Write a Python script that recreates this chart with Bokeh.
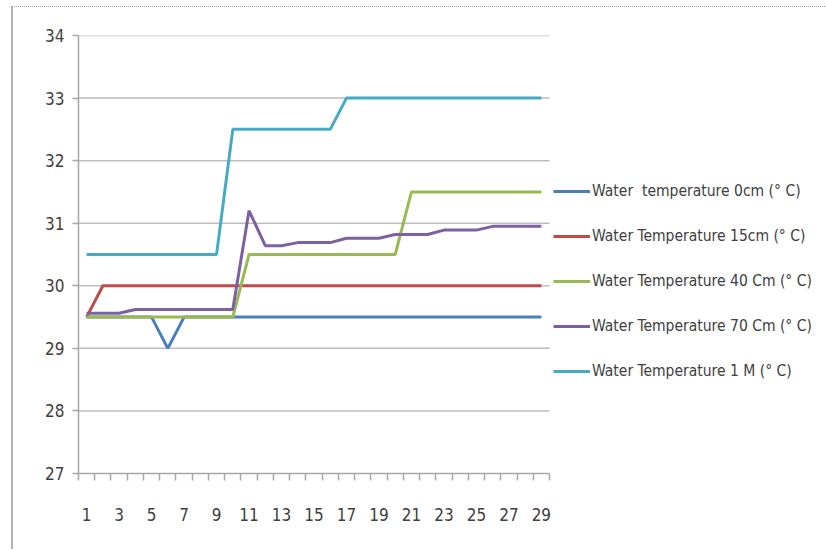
from bokeh.plotting import figure
from bokeh.models import FixedTicker, Legend, LegendItem
from bokeh.embed import file_html
from bokeh.resources import INLINE

days = list(range(1, 30))
t_0cm = [29.5, 29.5, 29.5, 29.5, 29.5, 29.0, 29.5, 29.5, 29.5, 29.5,
         29.5, 29.5, 29.5, 29.5, 29.5, 29.5, 29.5, 29.5, 29.5, 29.5,
         29.5, 29.5, 29.5, 29.5, 29.5, 29.5, 29.5, 29.5, 29.5]
t_15cm = [29.5] + [30.0] * 28
t_40cm = [29.5] * 10 + [30.5] * 10 + [31.5] * 9
t_70cm = [29.56, 29.56, 29.56, 29.62, 29.62, 29.62, 29.62, 29.62, 29.62, 29.62,
          31.2, 30.64, 30.64, 30.69, 30.69, 30.69, 30.76, 30.76, 30.76, 30.82,
          30.82, 30.82, 30.89, 30.89, 30.89, 30.95, 30.95, 30.95, 30.95]
t_1m = [30.5] * 9 + [32.5] * 7 + [33.0] * 13

names = ["Water  temperature 0cm (° C)", "Water Temperature 15cm (° C)",
         "Water Temperature 40 Cm (° C)", "Water Temperature 70 Cm (° C)",
         "Water Temperature 1 M (° C)"]
colors = ["#4A7EBB", "#BE4B48", "#98B954", "#7D60A0", "#46AAC5"]
series = [t_0cm, t_15cm, t_40cm, t_70cm, t_1m]

y_ticks = [27, 28, 29, 30, 31, 32, 33, 34]
x_labels = list(range(1, 30, 2))
x_minor = [d - 0.5 for d in days] + [29.5]
x_lo, x_hi = 0.5, 29.5

FONT = "'Liberation Sans Narrow', 'DejaVu Sans Condensed', 'Roboto Condensed', sans-serif"

# frame extends to the right so the legend (inside the frame) is not clipped
frame_w = 749
x_end = x_lo + (x_hi - x_lo) * frame_w / 471.0

p = figure(width=814, height=543, output_backend="svg", toolbar_location=None,
           x_range=(x_lo, x_end), y_range=(27, 34),
           min_border_left=65, min_border_right=0, min_border_top=28, min_border_bottom=77)
p.outline_line_color = None
p.background_fill_color = "white"
p.border_fill_color = "white"
p.styles = {"margin-left": "11px", "margin-top": "6px",
            "border-left": "2px solid #B4B4B4", "border-top": "1px dotted #9A9A9A"}

p.xgrid.grid_line_color = None
p.ygrid.grid_line_color = None
p.segment(x0=[x_lo] * (len(y_ticks) - 1), x1=[x_hi] * (len(y_ticks) - 1),
          y0=y_ticks[1:], y1=y_ticks[1:], line_color="#BDBDBD", line_width=1.5)

xa = p.xaxis[0]
xa.bounds = (x_lo, x_hi)
xa.ticker = FixedTicker(ticks=x_labels, minor_ticks=x_minor)
xa.axis_line_color = "#A6A6A6"
xa.axis_line_width = 1.5
xa.major_tick_line_color = None
xa.major_tick_out = 0
xa.major_tick_in = 0
xa.minor_tick_line_color = "#A6A6A6"
xa.minor_tick_line_width = 1.5
xa.minor_tick_out = 7
xa.minor_tick_in = 0
xa.major_label_standoff = 27
xa.major_label_text_font = FONT
xa.major_label_text_font_size = "17px"
xa.major_label_text_color = "#404040"

ya = p.yaxis[0]
ya.ticker = FixedTicker(ticks=y_ticks)
ya.axis_line_color = "#A6A6A6"
ya.axis_line_width = 1.5
ya.major_tick_line_color = "#A6A6A6"
ya.major_tick_line_width = 1.5
ya.major_tick_out = 6
ya.major_tick_in = 0
ya.minor_tick_line_color = None
ya.major_label_standoff = 8
ya.major_label_text_font = FONT
ya.major_label_text_font_size = "17px"
ya.major_label_text_color = "#404040"

items = []
for name, col, vals in zip(names, colors, series):
    r = p.line(days, vals, line_color=col, line_width=3)
    items.append(LegendItem(label=name, renderers=[r]))

legend = Legend(items=items, location=(475, 92), padding=0, margin=0,
                glyph_width=37, glyph_height=20, label_height=20, spacing=25,
                label_standoff=2, border_line_color=None, background_fill_alpha=0,
                label_text_font=FONT, label_text_font_size="15.5px",
                label_text_color="#404040")
p.add_layout(legend, "center")

open("out.html", "w").write(file_html(p, INLINE))
